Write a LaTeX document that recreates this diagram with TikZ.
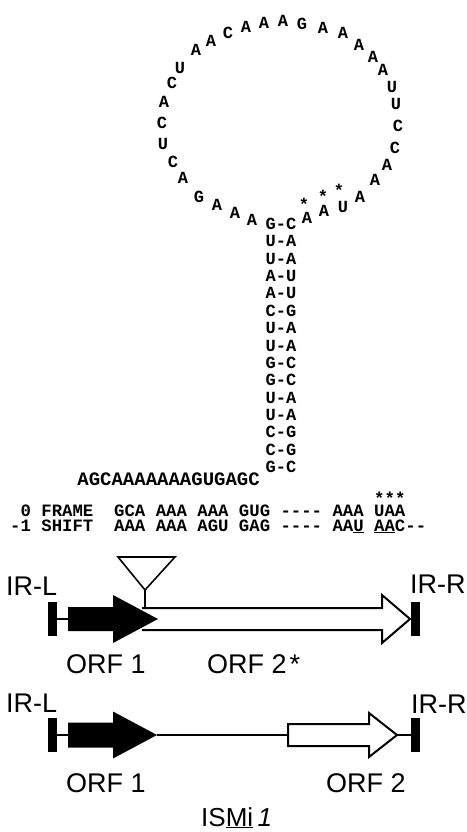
\documentclass[tikz,border=0pt]{standalone}
\usepackage{fontspec}
\newfontfamily\seqfont{Liberation Mono}[Ligatures=TeXOff]
\newfontfamily\labfont{Liberation Sans}
\begin{document}
\begin{tikzpicture}[x=1pt,y=-1pt,
  nt/.style={font=\seqfont\bfseries\fontsize{17}{17}\selectfont, inner sep=0pt},
  ft/.style={font=\seqfont\bfseries\fontsize{17.33}{17.33}\selectfont, inner sep=0pt, anchor=base west},
  st/.style={font=\seqfont\bfseries\fontsize{17}{17}\selectfont, inner sep=0pt, anchor=base},
  lab/.style={font=\labfont\fontsize{27}{27}\selectfont, inner sep=0pt, anchor=base west},
  irbox/.style={fill=black, draw=none, minimum width=9pt, minimum height=34pt, inner sep=0pt},
  link/.style={line width=1.5pt},
  orfw/.style={draw=black, fill=white, line width=2pt, line join=miter},
  orfb/.style={fill=black, draw=none}]
\useasboundingbox (0,0) rectangle (466,832);

% ---- loop ----
\foreach \x/\y/\t [count=\i] in {
  252/220/A, 235/213/A, 217/205/A, 199/197/G, 183/178/A, 173/162/C,
  163/144/U, 162/123/C, 164/102/A, 172/83/C, 180/68/U, 196/50/A,
  211/41/A, 228/33/C, 246/27/A, 264/23/A, 283/21/A, 302/24/G,
  323/28/A, 343/33/A, 359/45/A, 373/57/A, 383/70/A, 392/87/U,
  396/104/U, 398/126/C, 395/148/C, 387/165/A, 375/180/A, 360/197/A,
  343/207/U, 324/211/A, 307/218/A}
  \node[nt] (l\i) at (\x,\y) {\t};

% stars in loop
\node[st] (ls1) at (304,210) {*};
\node[st] (ls2) at (323,202) {*};
\node[st] (ls3) at (339,196) {*};

% ---- stem ----
\foreach \t [count=\i] in {G-C,U-A,U-A,A-U,A-U,C-G,U-A,U-A,G-C,G-C,U-A,U-A,C-G,C-G,G-C}
  \node[nt] (s\i) at (281,{224+(\i-1)*17.36}) {\t};

\node[font=\seqfont\bfseries\fontsize{19}{19}\selectfont, inner sep=0pt, anchor=base east] (tail) at (260,485) {AGCAAAAAAAGUGAGC};

% ---- frames ----
\node[ft] (stops) at (374,504) {***};
\node[ft] (f0) at (10,516) {\ 0\ FRAME\ \ GCA\ AAA\ AAA\ GUG\ ----\ AAA\ UAA};
\node[ft] (f1) at (10,531) {-1\ SHIFT\ \ AAA\ AAA\ AGU\ GAG\ ----\ AA\underline{U}\ \underline{AA}C--};

% ---- construct 1 ----
\node[lab] (irl1) at (6,595) {IR-L};
\node[lab] (irr1) at (410,593) {IR-R};
\node[irbox] (bl1) at (52.5,619) {};
\node[irbox] (br1) at (415,619) {};
\coordinate (b1s) at (68,619);
\coordinate (w1t) at (410,619);
\coordinate (tri) at (145,590);
\coordinate (w1top) at (145,608);
\draw[orfw] (142,608) -- (382,608) -- (382,595) -- (w1t) -- (382,643) -- (382,630) -- (142,630);
\fill[orfb] (68,607) -- (113,607) -- (113,595) -- (158,619) -- (113,643) -- (113,631) -- (68,631) -- cycle;
\draw[link] (bl1.east) -- (b1s);
\draw[line width=1.6pt, line join=miter] (118,557) -- (175,557) -- (tri) -- cycle;
\draw[line width=1.6pt] (tri) -- (w1top);
\node[lab] (orf1a) at (66,673) {ORF 1};
\node[lab] (orf2a) at (207,673) {ORF 2\hspace{3pt}*};

% ---- construct 2 ----
\node[lab] (irl2) at (6,712) {IR-L};
\node[lab] (irr2) at (411,713) {IR-R};
\node[irbox] (bl2) at (52.5,735) {};
\node[irbox] (br2) at (415.5,735) {};
\coordinate (b2s) at (68,735);
\coordinate (b2t) at (157,735);
\coordinate (w2s) at (288,735);
\coordinate (w2t) at (397,735);
\fill[orfb] (68,722.5) -- (113,722.5) -- (113,711.5) -- (b2t) -- (113,758.5) -- (113,747.5) -- (68,747.5) -- cycle;
\draw[orfw] (288,724) -- (369,724) -- (369,713) -- (w2t) -- (369,757) -- (369,746) -- (288,746) -- cycle;
\draw[link] (bl2.east) -- (b2s);
\draw[link] (b2t) -- (w2s);
\draw[link] (w2t) -- (br2.west);
\node[lab] (orf1b) at (66,792) {ORF 1};
\node[lab] (orf2b) at (326,792) {ORF 2};

\node[font=\labfont\fontsize{26}{26}\selectfont, inner sep=0pt, anchor=base west] (name) at (201,826) {IS\underline{Mi}\,\textit{1}};
\end{tikzpicture}
\end{document}
